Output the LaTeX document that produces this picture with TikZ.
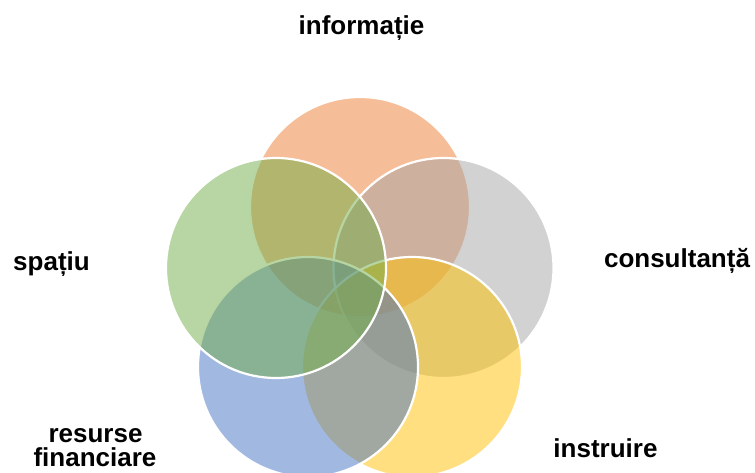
\documentclass[tikz,border=0pt]{standalone}
\usepackage{fontspec}
\setmainfont{Liberation Sans}
\definecolor{corange}{HTML}{ED7D31}
\definecolor{cgray}{HTML}{A5A5A5}
\definecolor{cyellow}{HTML}{FFC000}
\definecolor{cblue}{HTML}{4472C4}
\definecolor{cgreen}{HTML}{70AD47}
\begin{document}
\begin{tikzpicture}[x=1pt,y=-1pt,
  ring/.style={circle, minimum size=220pt, inner sep=0pt, fill opacity=0.5, draw=white, line width=2.2pt},
  lbl/.style={font=\bfseries\fontsize{26}{21}\selectfont, anchor=base, inner sep=0pt, align=center}]
\useasboundingbox (0,0) rectangle (755,473);
\node[ring, fill=corange] (inf) at (360,207) {};
\node[ring, fill=cgray] (con) at (443.5,268) {};
\node[ring, fill=cyellow] (ins) at (412,367) {};
\node[ring, fill=cblue] (res) at (308,367) {};
\node[ring, fill=cgreen] (spa) at (276,268) {};
\node[lbl] (tinf) at (361.5,35) {informație};
\node[lbl] (tspa) at (51.5,270) {spațiu};
\node[lbl] (tcon) at (677,267) {consultanță};
\node[lbl] (tins) at (605.5,457) {instruire};
\node[lbl] (tres1) at (95.5,442) {resurse};
\node[lbl] (tres2) at (95,466) {financiare};
\end{tikzpicture}
\end{document}
